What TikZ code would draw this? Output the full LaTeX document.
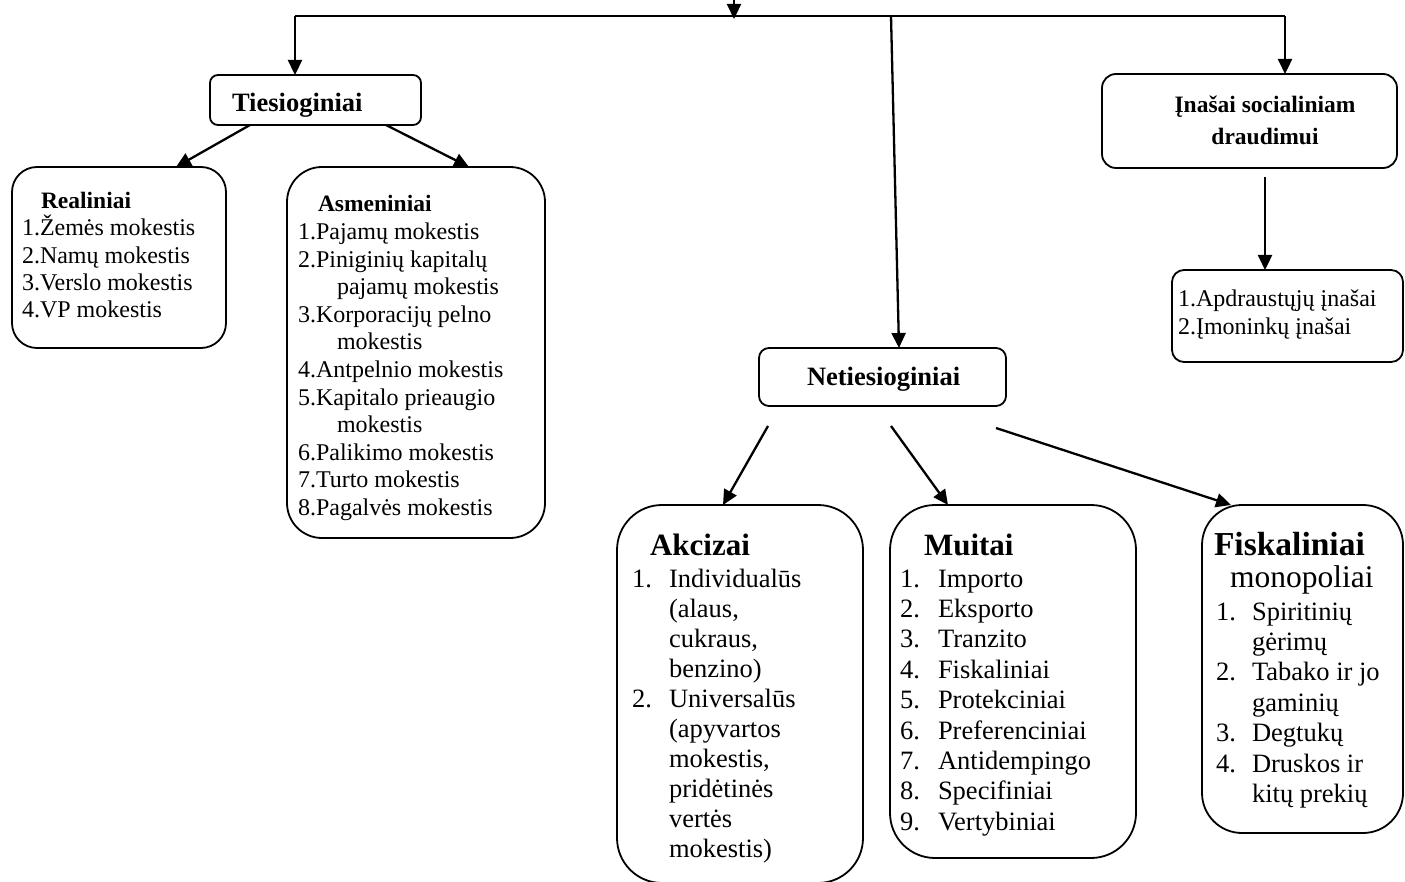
\documentclass[tikz,border=0pt]{standalone}
\usepackage{fontspec}
\setmainfont{Liberation Serif}
\usetikzlibrary{arrows.meta,calc}
\newcommand\szlist{\fontsize{24}{27}\selectfont}
\newcommand\szhead{\bfseries\fontsize{23.5}{26}\selectfont}
\newcommand\szmid{\bfseries\fontsize{26.5}{30}\selectfont}
\newcommand\szins{\bfseries\fontsize{23.5}{30}\selectfont}
\newcommand\szbot{\fontsize{26.5}{30}\selectfont}
\newcommand\szbottitle{\bfseries\fontsize{31}{34}\selectfont}
\newcommand\szfistitle{\bfseries\fontsize{33.5}{34}\selectfont}
\newcommand\szmono{\fontsize{31.5}{34}\selectfont}
\begin{document}
\begin{tikzpicture}[x=1pt,y=-1pt,
  box/.style={draw,rectangle,line width=1.8pt,rounded corners=#1,inner sep=0pt,outer sep=0pt},
  ln/.style={line width=2.2pt},
  arr/.style={line width=2.3pt,-{Triangle[length=15pt,width=14pt]}},
  txt/.style={anchor=base west,inner sep=0pt,outer sep=0pt},
  ctxt/.style={anchor=base,inner sep=0pt,outer sep=0pt}]
\useasboundingbox (0,0) rectangle (1405,882);

% boxes
\node[box=8pt,minimum width=211pt,minimum height=50pt] (ties) at (315.5,100) {};
\node[box=25pt,minimum width=214pt,minimum height=181pt] (real) at (119,257.5) {};
\node[box=35pt,minimum width=258pt,minimum height=371pt] (asm) at (416,352.5) {};
\node[box=14pt,minimum width=295pt,minimum height=94pt] (ins) at (1249.5,121) {};
\node[box=12pt,minimum width=231pt,minimum height=92pt] (insl) at (1287.5,316) {};
\node[box=10pt,minimum width=247pt,minimum height=58pt] (netie) at (882.5,377) {};
\node[box=45pt,minimum width=246pt,minimum height=378pt] (akc) at (740,694) {};
\node[box=45pt,minimum width=246pt,minimum height=353pt] (mui) at (1013,681.5) {};
\node[box=40pt,minimum width=201pt,minimum height=328pt] (fis) at (1302.5,669) {};

% connectors
\coordinate (top) at (734,-4);
\coordinate (topend) at (734,19);
\coordinate (hl) at (295,16);
\coordinate (hm) at (891,16);
\coordinate (hr) at (1285,16);
\draw[ln] (hl) -- (hr);
\draw[arr] (top) -- (topend);
\draw[arr] (hl) -- (hl |- ties.north);
\draw[arr] (hm) -- ([xshift=16.5pt]netie.north);
\draw[arr] (hr) -- (hr |- ins.north);
\draw[arr] ([xshift=-65.5pt]ties.south) -- ([xshift=57pt]real.north);
\draw[arr] ([xshift=70.5pt]ties.south) -- ([xshift=53pt]asm.north);
\draw[arr] ([xshift=15.5pt,yshift=-9pt]ins.south) -- ([xshift=-22.5pt]insl.north);
\draw[arr] ([xshift=-114.5pt,yshift=-20pt]netie.south) -- ([xshift=-17pt]akc.north);
\draw[arr] ([xshift=8.5pt,yshift=-20pt]netie.south) -- ([xshift=-65pt]mui.north);
\draw[arr] ([xshift=113.5pt,yshift=-22pt]netie.south) -- ([xshift=-71.5pt]fis.north);

% headers
\node[txt,font=\szmid] (tiest) at (232,112) {Tiesioginiai};
\node[txt,font=\szmid] (netiet) at (807,385) {Netiesioginiai};
\node[ctxt,font=\szins] (inst1) at (1265,113) {Įnašai socialiniam};
\node[ctxt,font=\szins] (inst2) at (1265,145) {draudimui};

% Realiniai
\node[txt,font=\szhead] (realh) at (41,209) {Realiniai};
\foreach \t [count=\k from 0] in {1.Žemės mokestis,2.Namų mokestis,3.Verslo mokestis,4.VP mokestis}
  \node[txt,font=\szlist] (re\k) at (22,236+27.3*\k) {\t};

% Asmeniniai
\node[txt,font=\szhead] (asmh) at (318,212) {Asmeniniai};
\foreach \xx/\t [count=\k from 0] in {298/1.Pajamų mokestis,298/2.Piniginių kapitalų,337/pajamų mokestis,298/3.Korporacijų pelno,337/mokestis,298/4.Antpelnio mokestis,298/5.Kapitalo prieaugio,337/mokestis,298/6.Palikimo mokestis,298/7.Turto mokestis,298/8.Pagalvės mokestis}
  \node[txt,font=\szlist] (as\k) at (\xx,240+27.5*\k) {\t};

% Inasai list
\node[txt,font=\szlist] (il1) at (1178,307) {1.Apdraustųjų įnašai};
\node[txt,font=\szlist] (il2) at (1178,335) {2.Įmoninkų įnašai};

% Akcizai
\node[txt,font=\szbottitle] (akct) at (650,555) {Akcizai};
\foreach \t [count=\k from 0] in {Individualūs,{(alaus,},{cukraus,},{benzino)},Universalūs,{(apyvartos},{mokestis,},{pridėtinės},{vertės},{mokestis)}}
  \node[txt,font=\szbot] (ak\k) at (669,587+30.1*\k) {\t};
\node[txt,font=\szbot] (akn1) at (632,587) {1.};
\node[txt,font=\szbot] (akn2) at (632,587+30.1*4) {2.};

% Muitai
\node[txt,font=\szbottitle] (muit) at (924,555) {Muitai};
\foreach \t [count=\k from 0] in {Importo,Eksporto,Tranzito,Fiskaliniai,Protekciniai,Preferenciniai,Antidempingo,Specifiniai,Vertybiniai}
  {\node[txt,font=\szbot] (mu\k) at (938,587+30.4*\k) {\t};
   \pgfmathtruncatemacro\nn{\k+1}
   \node[txt,font=\szbot] (mun\k) at (900,587+30.4*\k) {\nn.};}

% Fiskaliniai
\node[txt,font=\szfistitle] (fist) at (1214,555) {Fiskaliniai};
\node[txt,font=\szmono] (fism) at (1230,587) {monopoliai};
\foreach \t [count=\k from 0] in {Spiritinių,gėrimų,Tabako ir jo,gaminių,Degtukų,Druskos ir,kitų prekių}
  \node[txt,font=\szbot] (fi\k) at (1252,620+30.4*\k) {\t};
\node[txt,font=\szbot] (fin1) at (1216,620) {1.};
\node[txt,font=\szbot] (fin2) at (1216,620+30.4*2) {2.};
\node[txt,font=\szbot] (fin3) at (1216,620+30.4*4) {3.};
\node[txt,font=\szbot] (fin4) at (1216,620+30.4*5) {4.};
\end{tikzpicture}
\end{document}
